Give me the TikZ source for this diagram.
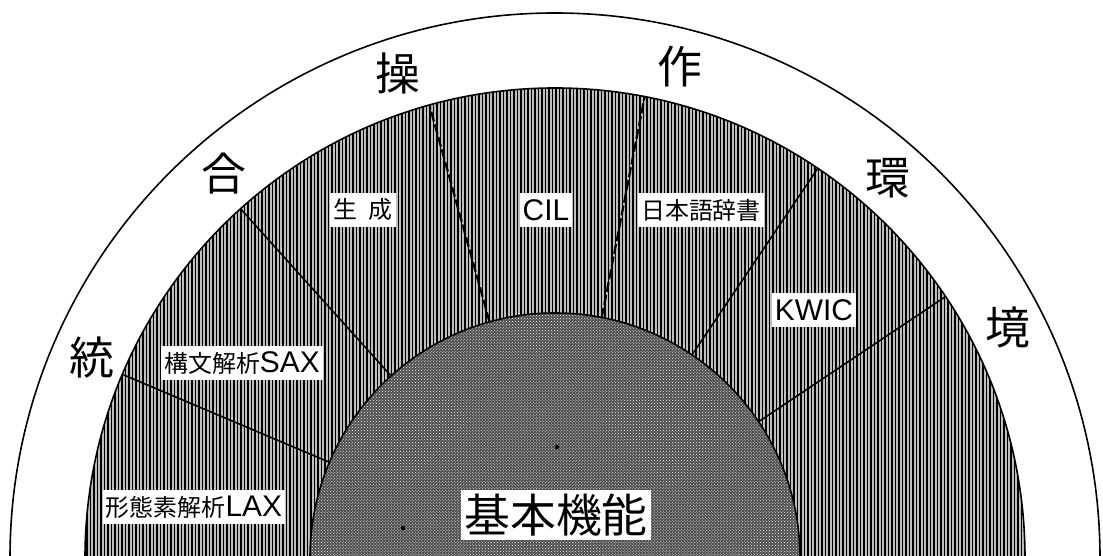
\documentclass[tikz,border=0pt]{standalone}
\usepackage{fontspec}
\newfontfamily\jp{Noto Sans CJK JP}
\newfontfamily\lat{Liberation Sans}
\usetikzlibrary{patterns}
\begin{document}
\begin{tikzpicture}[x=1bp,y=1bp,
  ringlbl/.style={fill=white, inner xsep=3bp, inner ysep=1bp, minimum height=34bp, font=\jp\fontsize{24}{24}\selectfont},
  centerlbl/.style={fill=white, inner xsep=3bp, inner ysep=1bp, minimum height=50bp, font=\jp\fontsize{46}{46}\selectfont},
  outerch/.style={font=\jp\fontsize{45}{45}\selectfont, inner sep=0pt},
  divider/.style={line width=1.6bp},
  dashdiv/.style={line width=2.2bp, dash pattern=on 10bp off 3bp},
  rim/.style={line width=1.6bp}]
\newcommand\latn[1]{{\lat\fontsize{30}{30}\selectfont #1}}
\path[use as bounding box] (0,0) rectangle (1103,556);
\clip (0,0) rectangle (1103,556);
\coordinate (C) at (555,-2);
% outer circle
\draw[rim, fill=white] (C) circle[radius=545];
% hatched ring
\begin{scope}
  \clip (C) circle[radius=470];
  \fill[black!25] (C) circle[radius=470];
  \foreach \x in {80,83.5,...,1036} \draw[line width=1.1bp] (\x,0) -- (\x,480);
\end{scope}
\draw[rim] (C) circle[radius=470];
% inner circle
\fill[black!70] (C) circle[radius=245];
\fill[pattern=crosshatch dots, pattern color=white] (C) circle[radius=245];
\draw[rim] (C) circle[radius=245];
\fill (557,109) circle[radius=2.2];
\fill (403,28) circle[radius=2.2];
% dividers
\foreach \n/\a in {a/157,b/132,c/105.5,d/79,e/56,f/33.8}{
  \coordinate (\n1) at ([shift={(\a:245)}]C);
  \coordinate (\n2) at ([shift={(\a:470)}]C);
}
\draw[divider] (a1) -- (a2);
\draw[divider] (b1) -- (b2);
\draw[dashdiv] (c1) -- (c2);
\draw[dashdiv] (d1) -- (d2);
\draw[divider] (e1) -- (e2);
\draw[divider] (f1) -- (f2);
% outer ring characters
\node[outerch] (o1) at (92,198) {統};
\node[outerch] (o2) at (224,382) {合};
\node[outerch] (o3) at (398,483) {操};
\node[outerch] (o4) at (680,489) {作};
\node[outerch] (o5) at (888,378) {環};
\node[outerch] (o6) at (1008,229) {境};
% ring labels
\node[ringlbl] (lax) at (194,49) {形態素解析\latn{LAX}};
\node[ringlbl] (sax) at (242,193) {構文解析\latn{SAX}};
\node[ringlbl] (gen) at (363,346) {生\hspace{12bp}成};
\node[ringlbl] (cil) at (546,346) {\latn{CIL}};
\node[ringlbl] (dic) at (701,346) {日本語辞書};
\node[ringlbl] (kwic) at (814,246) {\latn{KWIC}};
\node[centerlbl] (base) at (556,41) {基本機能};
\end{tikzpicture}
\end{document}
